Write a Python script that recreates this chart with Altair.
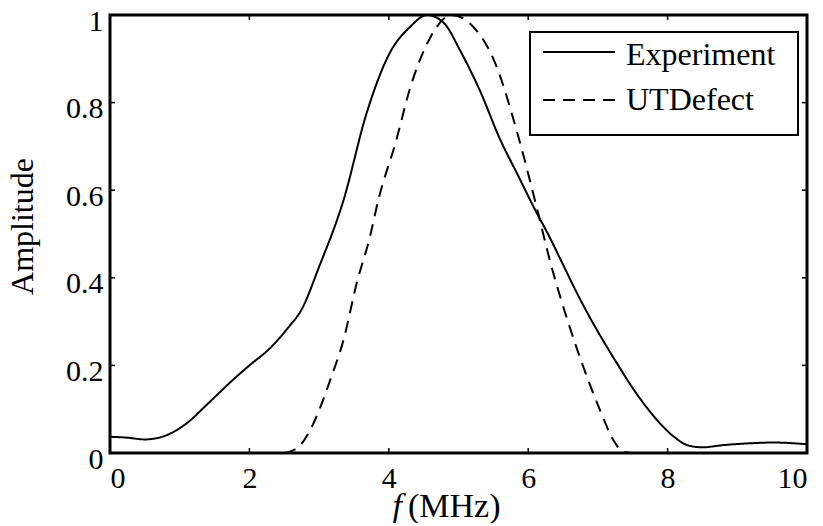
import altair as alt
import pandas as pd

# ---- data ----
exp_x = [0, 0.25, 0.5, 0.8, 1.1, 1.4, 1.75, 2.0, 2.3, 2.55, 2.75, 3.0, 3.35, 3.68,
         4.02, 4.3, 4.55, 4.8, 5.02, 5.3, 5.6, 5.85, 6.1, 6.3, 6.5, 6.7, 6.9, 7.1,
         7.3, 7.5, 7.7, 7.9, 8.1, 8.3, 8.5, 8.8, 9.3, 9.5, 10.0]
exp_y = [0.037, 0.035, 0.031, 0.040, 0.068, 0.112, 0.165, 0.200, 0.240, 0.285, 0.328,
         0.425, 0.577, 0.775, 0.915, 0.972, 1.000, 0.980, 0.920, 0.830, 0.715, 0.635,
         0.555, 0.495, 0.430, 0.365, 0.305, 0.250, 0.198, 0.148, 0.104, 0.066, 0.036,
         0.017, 0.013, 0.018, 0.023, 0.024, 0.020]

ut_x = [2.5, 2.6, 2.73, 2.92, 3.16, 3.35, 3.54, 3.73, 3.85, 4.1, 4.3, 4.6, 4.9, 5.2,
        5.5, 5.88, 6.12, 6.31, 6.55, 6.79, 7.03, 7.22, 7.36, 7.5]
ut_y = [0.0, 0.004, 0.018, 0.068, 0.167, 0.258, 0.388, 0.494, 0.578, 0.71, 0.83, 0.95,
        1.0, 0.975, 0.90, 0.71, 0.562, 0.44, 0.31, 0.197, 0.098, 0.03, 0.003, 0.0]

series_names = ["Experiment", "UTDefect"]
series_dash = [[1, 0], [12, 8]]
x_ticks = [0, 2, 4, 6, 8, 10]
y_ticks = [0, 0.2, 0.4, 0.6, 0.8, 1.0]
x_title_italic = "f"
x_title_rest = "(MHz)"
y_title = "Amplitude"

# ---- layout ----
W, H = 697, 438
FONT = "Liberation Serif"
TICK = 5

rows = [{"f": x, "a": y, "series": series_names[0]} for x, y in zip(exp_x, exp_y)]
rows += [{"f": x, "a": y, "series": series_names[1]} for x, y in zip(ut_x, ut_y)]
df = pd.DataFrame(rows)

xs = alt.Scale(domain=[0, 10], nice=False, zero=False)
ys = alt.Scale(domain=[0, 1], nice=False)

x_axis = alt.Axis(
    values=x_ticks, format="d", ticks=False, domain=False, grid=False,
    labelFont=FONT, labelFontSize=30, labelPadding=10, labelColor="black",
    title=None)
y_axis = alt.Axis(
    values=y_ticks, format="~g", ticks=False, domain=False, grid=False,
    labelFont=FONT, labelFontSize=30, labelPadding=7, labelOffset=6,
    labelColor="black",
    title=y_title, titleX=-78, titleY=211, titleAngle=270,
    titleBaseline="alphabetic", titleAlign="center",
    titleFont=FONT, titleFontSize=32, titleFontWeight="normal",
    titleColor="black")

lines = alt.Chart(df).mark_line(strokeWidth=2, color="black", interpolate="monotone").encode(
    x=alt.X("f:Q", scale=xs, axis=x_axis),
    y=alt.Y("a:Q", scale=ys, axis=y_axis),
    strokeDash=alt.StrokeDash("series:N", scale=alt.Scale(
        domain=series_names, range=series_dash), legend=None),
)

xt_df = pd.DataFrame({"f": x_ticks})
yt_df = pd.DataFrame({"a": y_ticks})

tick_style = dict(color="black", strokeWidth=1.5)
bottom = alt.Chart(xt_df).mark_rule(**tick_style).encode(
    x=alt.X("f:Q", scale=xs, axis=x_axis), y=alt.value(H), y2=alt.value(H - TICK))
top = alt.Chart(xt_df).mark_rule(**tick_style).encode(
    x=alt.X("f:Q", scale=xs, axis=x_axis), y=alt.value(0), y2=alt.value(TICK))
left = alt.Chart(yt_df).mark_rule(**tick_style).encode(
    y=alt.Y("a:Q", scale=ys, axis=y_axis), x=alt.value(0), x2=alt.value(TICK))
right = alt.Chart(yt_df).mark_rule(**tick_style).encode(
    y=alt.Y("a:Q", scale=ys, axis=y_axis), x=alt.value(W), x2=alt.value(W - TICK))

# x-axis title: italic f + (MHz)
t1 = alt.Chart(pd.DataFrame({"t": [x_title_italic]})).mark_text(
    font=FONT, fontSize=34, fontStyle="italic", align="right",
    baseline="alphabetic", color="black").encode(
    text="t:N", x=alt.value(292), y=alt.value(502))
t2 = alt.Chart(pd.DataFrame({"t": [x_title_rest]})).mark_text(
    font=FONT, fontSize=34, align="left",
    baseline="alphabetic", color="black").encode(
    text="t:N", x=alt.value(298), y=alt.value(502))

# legend box (drawn as marks)
leg_box = alt.Chart(pd.DataFrame({"k": [0]})).mark_rect(
    fill="white", stroke="black", strokeWidth=2).encode(
    x=alt.value(420), x2=alt.value(688), y=alt.value(17), y2=alt.value(120))
leg_layers = [leg_box]
line_y = [37, 85]
text_y = [50, 95]
for i, name in enumerate(series_names):
    d = pd.DataFrame({"series": [name]})
    leg_layers.append(alt.Chart(d).mark_rule(
        color="black", strokeWidth=2, strokeDash=series_dash[i]).encode(
        x=alt.value(433), x2=alt.value(505), y=alt.value(line_y[i])))
    leg_layers.append(alt.Chart(d).mark_text(
        font=FONT, fontSize=32, align="left", baseline="alphabetic",
        color="black").encode(
        text="series:N", x=alt.value(516), y=alt.value(text_y[i])))

chart = alt.layer(lines, bottom, top, left, right, t1, t2, *leg_layers).properties(
    width=W, height=H,
    padding={"left": 102, "top": 7, "right": 8, "bottom": 70},
    autosize=alt.AutoSizeParams(type="none"),
    background="white",
).configure_view(stroke="black", strokeWidth=3)

chart.save("out.html", embed_options={"renderer": "svg", "actions": False})
